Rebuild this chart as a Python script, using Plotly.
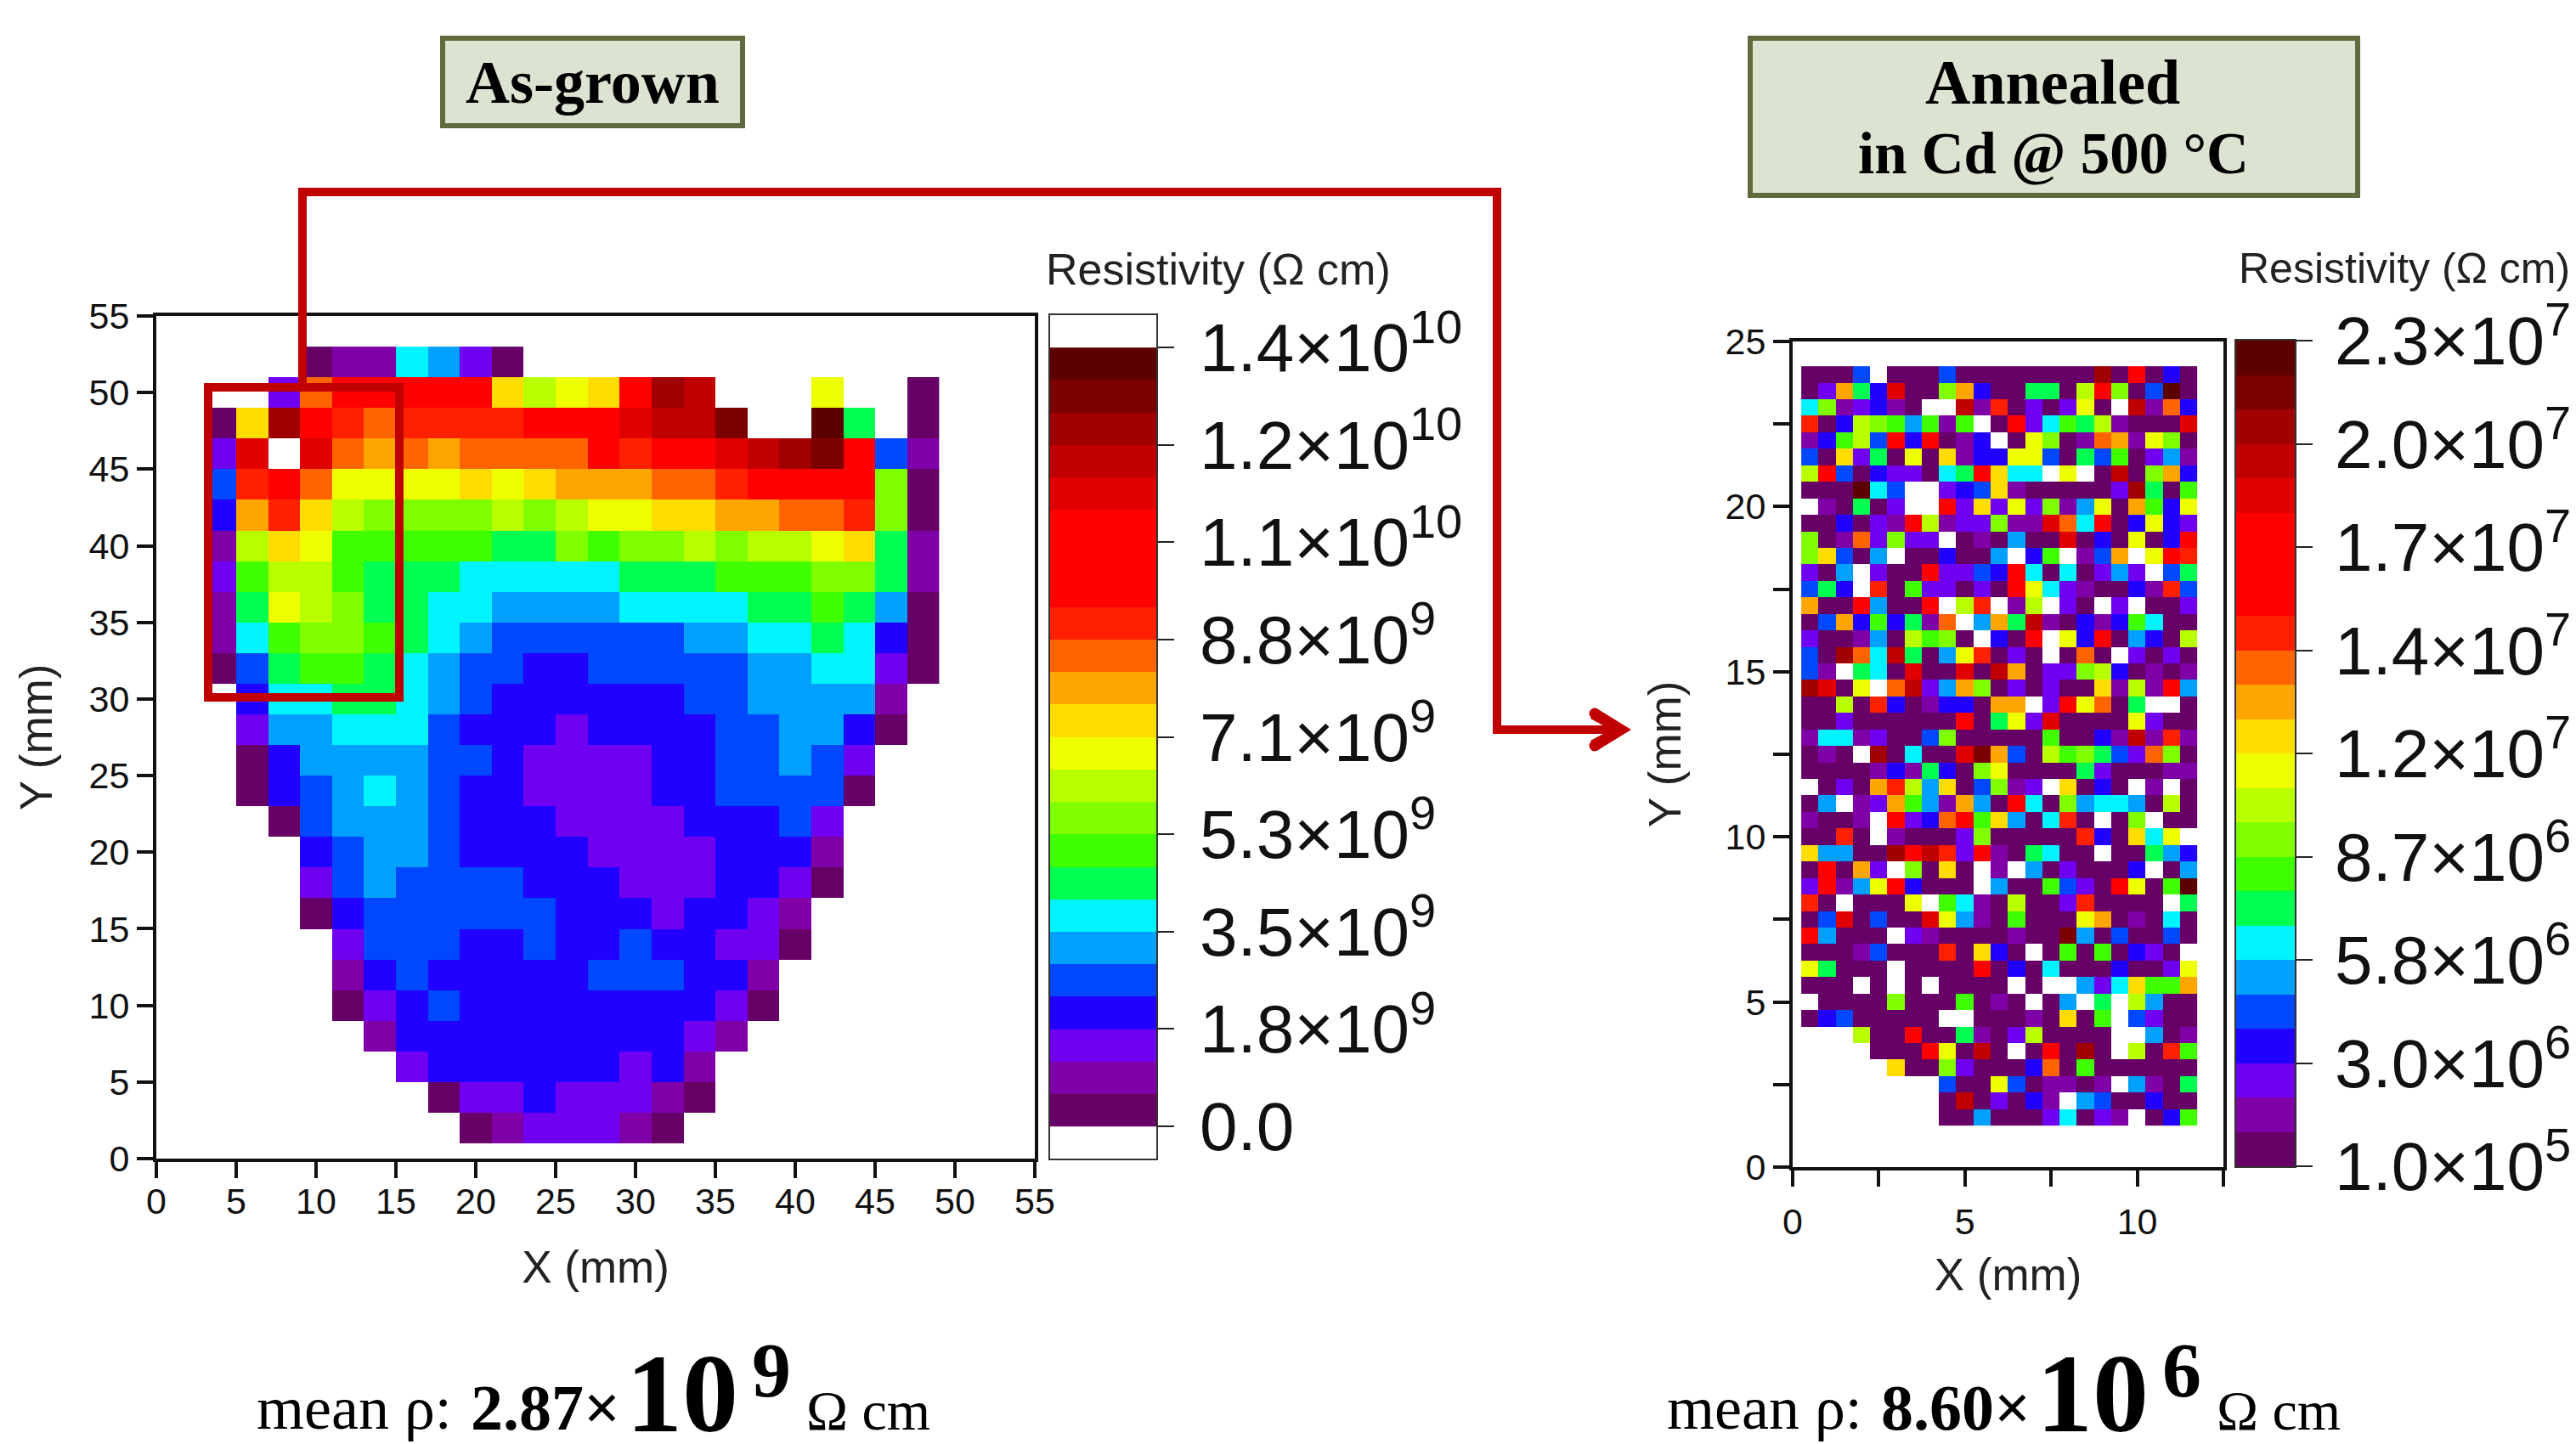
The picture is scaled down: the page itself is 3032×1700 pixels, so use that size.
import plotly.graph_objects as go

W, H = 3032, 1700
SANS = "Liberation Sans"
SERIF = "Liberation Serif"
RED = "#C00000"

# Colour bands of both maps, lowest to highest
BAND_COLORS = ["#660066", "#8000A8", "#7000F0", "#2200FF", "#0048FF", "#00A0FF",
               "#00F4FF", "#00FF50", "#40FF00", "#80FF00", "#B8FF00", "#EEFF00",
               "#FFDD00", "#FFA500", "#FF6400", "#FF2000", "#FF0000", "#FF0000",
               "#FF0000", "#E00000", "#C00000", "#A00000", "#7C0000", "#5C0000"]
BAND_CODE = "0123456789abcdefghijklmn"   # one letter per band, "." = no value / off scale

# As-grown map: band letter per cell, rows top to bottom
GROWN_X = [4 + 2 * i for i in range(23)]
GROWN_Y = [52 - 2 * i for i in range(26)]
GROWN_ROWS = [
    "...0116520.............",
    "..2egggggcabcglk...b..0",
    "0clgfeffffgggjkkm..n7.0",
    "2j.jededeeeegfggjklmg41",
    "4fgebbbbcbcdddeefgggg90",
    "3dfca9999a9abbccddeef90",
    "1acb88888779899a9aabc71",
    "28aa8777666667778889971",
    "17ba9776655556666778750",
    "16899876544444455667630",
    "04788765443344444556620",
    ".366776543333334455551.",
    ".255666433323333445530.",
    ".03555544322223344542..",
    ".03456543322223344440..",
    "..045554333222233342...",
    "...34554333322223331...",
    "...24544443332223320...",
    "...0344444433323321....",
    "....244433433433220....",
    "....13433333444331.....",
    "....02343333333320.....",
    ".....133333333321......",
    "......2333333231.......",
    ".......022322210.......",
    "........0122210........",
]

# Annealed map: band letter per cell, rows top to bottom
ANNEALED_X = [0.5 + 0.5 * i for i in range(23)]
ANNEALED_Y = [24.0 - 0.5 * i for i in range(46)]
ANNEALED_ROWS = [
    "0004.000400000000l0g030",
    "02d73j009d300770ag904n0",
    "6912310..k1f0202b0.k1e3",
    "f03a985818.0g2687a1000j",
    "138a4g3g013.0b901ed1b90",
    "40c270b0c133bb407480251",
    "ag40322067gc66.b.0k09d3",
    "000n64..234c1000002l708",
    ".10702..g2c2b2915b0d83b",
    "003021ga122911je6g03b32",
    "901e2922.010500j030b03g",
    "9c405.003005.38.14d.bgf",
    "205.200g2243g6060252.47",
    "473.f0822020gb6210031f4",
    "d00g500g.af.1a.20.2.002",
    "04d38371e.5d7k103138600",
    "200150a890.30g.b3g0530a",
    "40le6k705bf020.0e0.2020",
    "41.760j00j0kd0229a30101",
    "lj0b.ek25d9020200c1a1g5",
    "00a0f301330dd.2gbe07..0",
    "002000000g07b2j0000b200",
    "1661200490000080031k1f1",
    "010.l0600jmd40a89742e90",
    "00001317309b00007200011",
    ".020dfa5c04912.c030.1.0",
    "05.12d851d50g60956650a0",
    "1001.g23eg8c506f0.09.00",
    "00f0.10002900000f30c6b.",
    "c5500lgkf2g107600.00753",
    "0g0d2.90c0.1.5020003.05",
    "2g15bg3000.5008420gb08n",
    "f0.000b.8610a002f0000.7",
    "04j0400jb5108000bd01060",
    "g5000.210000100m5040040",
    "00014000f0c30.08080320.",
    "b7000.0000g03060003002b",
    "000.0.0.0000.0..526c88d",
    ".000090008010.05.7.a500",
    "03400000..00010c08.4200",
    "...a00g007102a0000..501",
    "....000gb0k0.0g0l0.a0f8",
    ".....c00920003e08000000",
    "........400b401101.5107",
    "........0k02031.5400300",
    "........00500026021.038",
]

# Colour-bar scales (resistivity, ohm cm)
GROWN_LOW, GROWN_HIGH = 0.0, 1.41e10
GROWN_TICKS = [0, 1.7625e9, 3.525e9, 5.2875e9, 7.05e9, 8.8125e9, 1.0575e10, 1.23375e10, 1.41e10]
GROWN_TICKTEXT = ["0.0", "1.8×10<sup>9</sup>", "3.5×10<sup>9</sup>", "5.3×10<sup>9</sup>",
                  "7.1×10<sup>9</sup>", "8.8×10<sup>9</sup>", "1.1×10<sup>10</sup>",
                  "1.2×10<sup>10</sup>", "1.4×10<sup>10</sup>"]
ANNEALED_LOW, ANNEALED_HIGH = 1.0e5, 2.32e7
ANNEALED_TICKS = [1.0e5, 2.9875e6, 5.875e6, 8.7625e6, 1.165e7, 1.45375e7, 1.7425e7, 2.03125e7, 2.32e7]
ANNEALED_TICKTEXT = ["1.0×10<sup>5</sup>", "3.0×10<sup>6</sup>", "5.8×10<sup>6</sup>", "8.7×10<sup>6</sup>",
                     "1.2×10<sup>7</sup>", "1.4×10<sup>7</sup>", "1.7×10<sup>7</sup>",
                     "2.0×10<sup>7</sup>", "2.3×10<sup>7</sup>"]

for name, rows, n in [("grown", GROWN_ROWS, 26), ("annealed", ANNEALED_ROWS, 46)]:
    assert len(rows) == n, name
    for r in rows:
        assert len(r) == 23, (name, r, len(r))


def px(x):
    return x / W


def py(y):
    return 1 - y / H


def decode(rows, low, high):
    step = (high - low) / 24
    return [[None if c == "." else low + (BAND_CODE.index(c) + 0.5) * step for c in r] for r in rows]


def scale():
    out = []
    for i, c in enumerate(BAND_COLORS):
        out += [[i / 24, c], [(i + 1) / 24, c]]
    return out


def band_mids(low, high):
    step = (high - low) / 24
    return [low + (i + 0.5) * step for i in range(24)]


fig = go.Figure()
fig.add_trace(go.Heatmap(
    x=GROWN_X, y=GROWN_Y, z=decode(GROWN_ROWS, GROWN_LOW, GROWN_HIGH),
    zmin=GROWN_LOW, zmax=GROWN_HIGH, colorscale=scale(), showscale=False,
    xaxis="x", yaxis="y", hoverongaps=False))
fig.add_trace(go.Heatmap(
    x=ANNEALED_X, y=ANNEALED_Y, z=decode(ANNEALED_ROWS, ANNEALED_LOW, ANNEALED_HIGH),
    zmin=ANNEALED_LOW, zmax=ANNEALED_HIGH, colorscale=scale(), showscale=False,
    xaxis="x2", yaxis="y2", hoverongaps=False))
# Colour keys drawn as one-column heatmaps with their own value axes
g_mids = band_mids(GROWN_LOW, GROWN_HIGH)
fig.add_trace(go.Heatmap(
    x=[0], y=g_mids, z=[[v] for v in g_mids], zmin=GROWN_LOW, zmax=GROWN_HIGH,
    colorscale=scale(), showscale=False, xaxis="x3", yaxis="y3", hoverinfo="y"))
a_mids = band_mids(ANNEALED_LOW, ANNEALED_HIGH)
fig.add_trace(go.Heatmap(
    x=[0], y=a_mids, z=[[v] for v in a_mids], zmin=ANNEALED_LOW, zmax=ANNEALED_HIGH,
    colorscale=scale(), showscale=False, xaxis="x4", yaxis="y4", hoverinfo="y"))

axis_style = dict(
    showgrid=False, zeroline=False, showline=True, mirror=True, linecolor="#111111", linewidth=4,
    ticks="outside", ticklen=19, tickwidth=4, tickcolor="#111111", automargin=False,
    tickfont=dict(family=SANS, size=43, color="#111111"),
)
minor = dict(dtick=2.5, ticks="outside", ticklen=19, tickwidth=4, tickcolor="#111111", showgrid=False)
key_x = dict(showgrid=False, zeroline=False, showline=True, mirror=True, linecolor="#333333", linewidth=2,
             ticks="", showticklabels=False, range=[-0.5, 0.5], automargin=False)
key_y = dict(showgrid=False, zeroline=False, showline=True, mirror=True, linecolor="#333333", linewidth=2,
             side="right", ticks="outside", ticklen=19, tickwidth=2, tickcolor="#222222", automargin=False,
             tickmode="array", tickfont=dict(family=SANS, size=80, color="#111111"))
title_font = dict(family=SANS, size=53, color="#222222")
g_step = (GROWN_HIGH - GROWN_LOW) / 24
fig.update_layout(
    width=W, height=H, autosize=False, margin=dict(l=0, r=0, t=0, b=0),
    paper_bgcolor="white", plot_bgcolor="white", showlegend=False,
    xaxis=dict(axis_style, domain=[px(184), px(1218)], range=[0, 55], tick0=0, dtick=5, ticklabelstandoff=-10,
               title=dict(text="X (mm)", font=title_font, standoff=37)),
    yaxis=dict(axis_style, domain=[py(1364), py(372)], range=[0, 55], tick0=0, dtick=5, anchor="x",
               title=dict(text="Y (mm)", font=title_font, standoff=27)),
    xaxis2=dict(axis_style, domain=[px(2110), px(2617)], range=[0, 12.5], tick0=0, dtick=5, anchor="y2",
                ticklabelstandoff=4, minor=minor, title=dict(text="X (mm)", font=title_font, standoff=22)),
    yaxis2=dict(axis_style, domain=[py(1374), py(402)], range=[0, 25], tick0=0, dtick=5, anchor="x2",
                minor=minor, title=dict(text="Y (mm)", font=title_font, standoff=36)),
    xaxis3=dict(key_x, domain=[px(1236), px(1361)], anchor="y3"),
    yaxis3=dict(key_y, domain=[py(1364), py(371)], anchor="x3", ticklabelstandoff=14,
                range=[GROWN_LOW - g_step, GROWN_HIGH + g_step],
                tickvals=GROWN_TICKS, ticktext=GROWN_TICKTEXT),
    xaxis4=dict(key_x, domain=[px(2632), px(2701)], anchor="y4"),
    yaxis4=dict(key_y, domain=[py(1373), py(401)], anchor="x4", ticklabelstandoff=10,
                range=[ANNEALED_LOW, ANNEALED_HIGH],
                tickvals=ANNEALED_TICKS, ticktext=ANNEALED_TICKTEXT),
)


def text(x, baseline, s, size, bold=False, family=SERIF, anchor="left", color="#000000"):
    fig.add_annotation(
        xref="paper", yref="paper", x=px(x), y=py(baseline - 0.3 * size), xanchor=anchor, yanchor="middle",
        text=("<b>%s</b>" % s) if bold else s, showarrow=False, align="left", borderpad=0,
        font=dict(family=family, size=size, color=color))


def rect(x0, y0, x1, y1, color, width, fill=None):
    fig.add_shape(type="rect", xref="paper", yref="paper", x0=px(x0), x1=px(x1), y0=py(y0), y1=py(y1),
                  line=dict(color=color, width=width), fillcolor=fill, layer="above")


def path(points, color, width=0, fill=None):
    d = "M " + " L ".join("%f,%f" % (px(a), py(b)) for a, b in points)
    fig.add_shape(type="path", xref="paper", yref="paper", path=d + (" Z" if fill else ""),
                  line=dict(color=color, width=width), fillcolor=fill, layer="above")


# Title boxes
BOX_EDGE, BOX_FILL = "#5F6B3F", "#DCE3D0"
rect(521, 45, 874, 148, BOX_EDGE, 6, BOX_FILL)
rect(2060, 45, 2775, 230, BOX_EDGE, 6, BOX_FILL)
text(697, 119, "As-grown", 72, True, anchor="center")
text(2416, 119, "Annealed", 74, True, anchor="center")
text(2417, 202, "in Cd @ 500 °C", 69, True, anchor="center")

# Red frame and connector
rect(245, 456, 470, 821, RED, 10)
path([(356, 452), (356, 226), (1762, 226), (1762, 859), (1905, 859)], RED, 10)
path([(1920, 859), (1881, 835), (1872, 846), (1896, 859), (1872, 872), (1881, 883)], RED, 0, RED)
for cx, cy in [(1877, 840), (1877, 878)]:
    fig.add_shape(type="circle", xref="paper", yref="paper", x0=px(cx - 6.5), x1=px(cx + 6.5),
                  y0=py(cy + 6.5), y1=py(cy - 6.5), line=dict(width=0), fillcolor=RED, layer="above")

# Colour-key titles
text(1230, 333, "Resistivity (Ω cm)", 52, family=SANS, color="#222222")
text(2634, 331, "Resistivity (Ω cm)", 50, family=SANS, color="#222222")

# Mean resistivity lines
for dx, value, exponent in [(0, "2.87×", "9"), (1660, "8.60×", "6")]:
    text(301 + dx, 1680, "mean ρ:", 72)
    text(553 + dx, 1680, value, 76, True)
    text(736 + dx, 1680, "10", 132, True)
    text(884 + dx, 1641, exponent, 92, True)
    text(948 + dx, 1680, "Ω cm", 66)

fig.write_html("out.html", config={"displayModeBar": False},
               post_script="document.body.style.margin='0';document.body.style.overflow='hidden';")
